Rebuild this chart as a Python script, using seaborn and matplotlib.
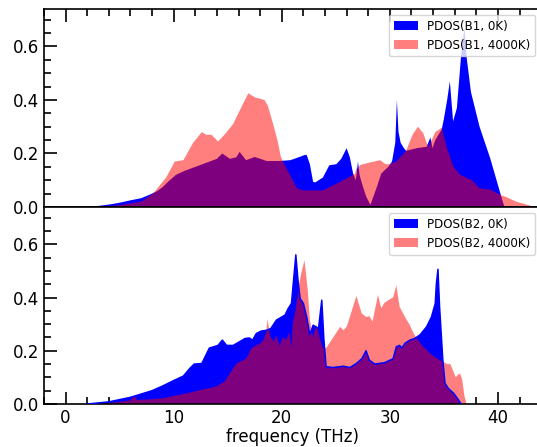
import numpy as np
import matplotlib
matplotlib.use("Agg")
import matplotlib.pyplot as plt
import seaborn as sns
from matplotlib.ticker import MultipleLocator

# ---- phonon partial DOS, B1 site ----
b1_0k_freq = [2.0, 3.0, 4.0, 5.0, 6.0, 7.0, 8.0, 8.5, 9.0, 9.5, 10.2, 11.0, 12.0, 13.0,
              14.0, 14.5, 15.2, 15.8, 16.1, 16.7, 17.5, 18.6, 19.8, 20.8, 21.5, 22.1,
              22.3, 22.6, 22.9, 23.1, 23.8, 24.4, 25.05, 25.5, 26.0, 26.3, 26.6, 26.85,
              27.05, 27.2, 27.4, 27.8, 28.2, 28.8, 29.2, 29.85, 30.2, 30.5, 30.65, 30.8,
              31.0, 31.3, 31.5, 32.5, 33.4, 33.75, 33.95, 34.2, 34.8, 35.0, 35.3, 35.55,
              35.85, 36.2, 36.6, 36.9, 37.1, 37.5, 38.3, 39.3, 40.3, 40.6]
b1_0k_pdos = [0.0, 0.004, 0.009, 0.016, 0.025, 0.033, 0.05, 0.06, 0.075, 0.095, 0.12, 0.135,
              0.15, 0.165, 0.18, 0.20, 0.18, 0.186, 0.206, 0.175, 0.187, 0.172, 0.172, 0.175,
              0.185, 0.194, 0.195, 0.16, 0.094, 0.092, 0.11, 0.156, 0.16, 0.18, 0.22, 0.185,
              0.125, 0.10, 0.17, 0.12, 0.09, 0.04, 0.008, 0.075, 0.125, 0.15, 0.17, 0.24,
              0.40, 0.28, 0.24, 0.22, 0.21, 0.22, 0.225, 0.26, 0.22, 0.25, 0.29, 0.33, 0.40,
              0.47, 0.32, 0.37, 0.57, 0.67, 0.56, 0.43, 0.30, 0.18, 0.04, 0.0]

b1_4000k_freq = [3.0, 4.0, 5.0, 6.0, 7.0, 8.1, 9.3, 10.1, 10.9, 11.8, 12.6, 13.0, 13.5, 14.1,
                 14.7, 15.5, 16.1, 16.9, 17.5, 18.4, 18.7, 19.2, 19.6, 19.9, 20.1, 20.7,
                 21.4, 22.0, 23.8, 25.1, 26.0, 26.8, 26.9, 27.0, 27.2, 28.0, 29.1, 29.6,
                 30.0, 30.6, 31.5, 32.1, 32.6, 33.1, 33.4, 33.6, 34.2, 34.8, 35.25, 35.9,
                 36.5, 37.6, 38.3, 39.3, 40.2, 40.6, 41.7, 43.0, 43.3]
b1_4000k_pdos = [0.0, 0.003, 0.007, 0.013, 0.02, 0.05, 0.11, 0.17, 0.175, 0.24, 0.28, 0.27,
                 0.27, 0.245, 0.27, 0.31, 0.36, 0.425, 0.41, 0.40, 0.38, 0.31, 0.25, 0.19,
                 0.17, 0.125, 0.07, 0.062, 0.062, 0.088, 0.107, 0.125, 0.15, 0.13, 0.156,
                 0.165, 0.175, 0.16, 0.16, 0.17, 0.21, 0.27, 0.30, 0.275, 0.24, 0.225, 0.28,
                 0.296, 0.225, 0.15, 0.12, 0.10, 0.07, 0.065, 0.045, 0.04, 0.02, 0.005, 0.0]

# ---- phonon partial DOS, B2 site ----
b2_0k_freq = [2.0, 4.0, 6.0, 8.0, 9.0, 10.0, 10.9, 11.5, 11.9, 12.6, 13.3, 14.1, 14.5, 14.9,
              15.5, 16.1, 16.6, 17.0, 17.3, 17.65, 18.1, 18.6, 19.0, 19.5, 20.3, 20.6, 20.9,
              21.3, 21.5, 21.7, 22.0, 22.3, 22.6, 22.9, 23.4, 23.7, 23.9, 24.1, 24.75, 25.7,
              26.3, 26.9, 27.4, 27.8, 28.1, 28.6, 29.5, 30.3, 30.6, 30.9, 31.1, 31.4, 31.85,
              32.3, 32.8, 33.4, 33.85, 34.2, 34.3, 34.45, 34.6, 34.9, 35.1, 35.4, 35.9, 36.3,
              36.6]
b2_0k_pdos = [0.0, 0.008, 0.025, 0.05, 0.068, 0.088, 0.105, 0.134, 0.15, 0.152, 0.21, 0.22,
              0.24, 0.22, 0.22, 0.234, 0.246, 0.248, 0.24, 0.265, 0.274, 0.277, 0.284, 0.315,
              0.334, 0.359, 0.378, 0.56, 0.465, 0.396, 0.378, 0.327, 0.26, 0.296, 0.284, 0.39,
              0.24, 0.14, 0.137, 0.142, 0.137, 0.152, 0.17, 0.2, 0.165, 0.15, 0.155, 0.17,
              0.215, 0.22, 0.21, 0.228, 0.24, 0.246, 0.26, 0.29, 0.327, 0.378, 0.45, 0.506,
              0.365, 0.165, 0.078, 0.059, 0.04, 0.018, 0.0]

b2_4000k_freq = [2.5, 4.0, 5.0, 6.0, 6.4, 6.6, 8.0, 9.0, 10.0, 11.0, 12.4, 13.9, 14.7, 15.2,
                 15.8, 16.7, 17.2, 18.0, 18.3, 18.55, 18.7, 18.85, 19.0, 19.3, 19.5, 19.8,
                 20.1, 20.4, 20.7, 20.9, 21.0, 21.3, 21.6, 21.8, 22.1, 22.4, 22.6, 22.9, 23.2,
                 23.5, 23.8, 24.1, 24.6, 25.4, 25.7, 26.0, 26.3, 26.9, 27.4, 27.8, 28.1, 28.4,
                 28.9, 29.2, 29.5, 29.85, 30.3, 30.6, 30.9, 31.4, 31.85, 32.2, 32.5, 33.1,
                 33.9, 34.6, 34.9, 35.3, 35.6, 35.9, 36.1, 36.3, 36.5, 36.7, 36.9, 37.1]
b2_4000k_pdos = [0.0, 0.004, 0.008, 0.014, 0.03, 0.015, 0.018, 0.022, 0.03, 0.038, 0.052,
                 0.065, 0.084, 0.115, 0.152, 0.17, 0.21, 0.228, 0.24, 0.27, 0.32, 0.27, 0.25,
                 0.234, 0.26, 0.218, 0.25, 0.24, 0.27, 0.21, 0.30, 0.36, 0.45, 0.49, 0.54,
                 0.43, 0.315, 0.25, 0.30, 0.25, 0.21, 0.21, 0.24, 0.29, 0.277, 0.29, 0.327,
                 0.406, 0.34, 0.327, 0.33, 0.31, 0.41, 0.36, 0.38, 0.39, 0.40, 0.446, 0.365,
                 0.327, 0.296, 0.265, 0.246, 0.215, 0.184, 0.165, 0.159, 0.15, 0.15, 0.12,
                 0.10, 0.11, 0.115, 0.09, 0.03, 0.0]

labels_b1 = ["PDOS(B1, 0K)", "PDOS(B1, 4000K)"]
labels_b2 = ["PDOS(B2, 0K)", "PDOS(B2, 4000K)"]
x_label = "frequency (THz)"

sns.set_theme(style="ticks")
plt.rcParams.update({
    "font.family": ["DejaVu Sans"],
    "text.color": "black",
    "axes.edgecolor": "black",
    "axes.labelcolor": "black",
    "xtick.color": "black",
    "ytick.color": "black",
    "axes.linewidth": 1.2,
})

fig = plt.figure(figsize=(5.37, 4.47), dpi=100)
ax_top = fig.add_axes([0.0819, 0.5369, 0.9259, 0.4430])
ax_bot = fig.add_axes([0.0819, 0.0962, 0.9259, 0.4407])


def draw_panel(ax, f0, p0, f1, p1, labels, outline):
    ax.fill_between(f0, 0, p0, color="blue", lw=0, edgecolor="none", label=labels[0])
    ax.fill_between(f1, 0, p1, color="red", alpha=0.5, lw=0, edgecolor="none",
                    label=labels[1])
    if outline:
        sns.lineplot(x=f0, y=p0, ax=ax, color="blue", lw=1.1, sort=False,
                     estimator=None, zorder=3)
    ax.set_xlim(-2, 44)
    ax.set_ylim(0, 0.74)
    ax.xaxis.set_major_locator(MultipleLocator(10))
    ax.xaxis.set_minor_locator(MultipleLocator(2))
    ax.yaxis.set_major_locator(MultipleLocator(0.2))
    ax.yaxis.set_minor_locator(MultipleLocator(0.05))
    ax.tick_params(which="both", direction="in", width=1.2, labelsize=12,
                   left=True, right=False)
    ax.tick_params(which="major", length=9)
    ax.tick_params(which="minor", length=5)
    ax.set_ylabel("")
    ax.legend(loc="upper right", fontsize=8.6, frameon=True, fancybox=True,
              framealpha=0.8, edgecolor="0.8")


draw_panel(ax_top, b1_0k_freq, b1_0k_pdos, b1_4000k_freq, b1_4000k_pdos,
           labels_b1, outline=False)
draw_panel(ax_bot, b2_0k_freq, b2_0k_pdos, b2_4000k_freq, b2_4000k_pdos,
           labels_b2, outline=True)

ax_top.tick_params(axis="x", which="both", top=True, bottom=False,
                   labeltop=False, labelbottom=False)
ax_bot.tick_params(axis="x", which="both", top=False, bottom=True, labelbottom=True)
ax_bot.set_yticks([0.0, 0.2, 0.4, 0.6])
ax_top.set_yticks([0.0, 0.2, 0.4, 0.6])
ax_bot.set_xticks([0, 10, 20, 30, 40])
ax_bot.set_xlabel(x_label, fontsize=12, labelpad=0.5)

fig.savefig("out.png", dpi=100)
